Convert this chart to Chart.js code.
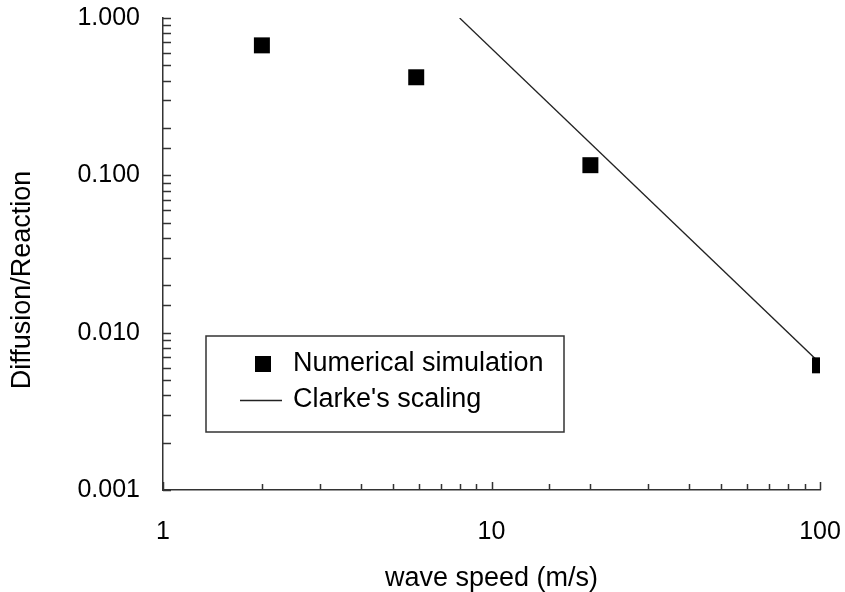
<!DOCTYPE html>
<html>
<head>
<meta charset="utf-8">
<script src="https://cdn.jsdelivr.net/npm/chart.js@4.4.0/dist/chart.umd.min.js"></script>
<style>
  html, body { margin: 0; padding: 0; background: #fff; }
  #wrap { width: 845px; height: 592px; position: relative; }
</style>
</head>
<body>
<div id="wrap"><canvas id="chart"></canvas></div>
<script>
'use strict';

// numerical simulation results
const simSpeed = [2, 5.9, 20, 100];
const simRatio = [0.67, 0.42, 0.116, 0.0062];

// Clarke's scaling: straight line in log-log, slope -2
const clarkeSpeed = [8, 100];
const clarkeRatio = [1.0, 0.0064];

const xRange = [1, 100];
const yRange = [0.001, 1];
const xTickLabels = ['1', '10', '100'];
const yTickLabels = ['0.001', '0.010', '0.100', '1.000'];

const seriesNames = ['Numerical simulation', "Clarke's scaling"];
const xTitle = 'wave speed (m/s)';
const yTitle = 'Diffusion/Reaction';

const FONT = "'Liberation Sans', Arial, sans-serif";
const INK = '#222';

function isDecade(v) {
    const l = Math.log10(v);
    return Math.abs(l - Math.round(l)) < 1e-6;
}

function decadeLabel(v, min, labels) {
    if (!isDecade(v)) return '';
    const idx = Math.round(Math.log10(v) - Math.log10(min));
    return labels[idx] !== undefined ? labels[idx] : '';
}

// keep label overhang from pushing the plot area around
function noPadding(s) {
    s.paddingTop = 0;
    s.paddingBottom = 0;
    s.paddingLeft = 0;
    s.paddingRight = 0;
}

// tick marks pointing into the plot, drawn at the scale's own tick values
const innerTicks = {
    id: 'innerTicks',
    afterDraw(chart) {
        const ctx = chart.ctx;
        const area = chart.chartArea;
        const xs = chart.scales.x;
        const ys = chart.scales.y;
        ctx.save();
        ctx.strokeStyle = '#333';
        ctx.lineWidth = 1.5;
        ctx.beginPath();
        xs.ticks.forEach(t => {
            const px = Math.round(xs.getPixelForValue(t.value)) + 0.5;
            const len = isDecade(t.value) ? 8 : 6;
            ctx.moveTo(px, area.bottom);
            ctx.lineTo(px, area.bottom - len);
        });
        ys.ticks.forEach(t => {
            const py = Math.round(ys.getPixelForValue(t.value)) + 0.5;
            ctx.moveTo(area.left, py);
            ctx.lineTo(area.left + 8, py);
        });
        ctx.stroke();
        ctx.restore();
    }
};

// boxed legend inside the plot plus the y axis title
const boxLegend = {
    id: 'boxLegend',
    afterDraw(chart) {
        const ctx = chart.ctx;
        const area = chart.chartArea;
        const ds = chart.data.datasets;
        const left = area.left + 43;
        const top = area.top + 318;
        const w = 358;
        const h = 96;

        ctx.save();
        ctx.strokeStyle = '#333';
        ctx.lineWidth = 1.5;
        ctx.strokeRect(left, top, w, h);

        ctx.font = '27px ' + FONT;
        ctx.fillStyle = '#000';
        ctx.textBaseline = 'middle';
        ctx.textAlign = 'left';

        // row 1: square marker
        const r1 = top + 28;
        ctx.fillStyle = ds[0].backgroundColor;
        ctx.fillRect(left + 49, r1 - 8, 16, 16);
        ctx.fillStyle = '#000';
        ctx.fillText(ds[0].label, left + 87, r1);

        // row 2: line sample
        const r2 = top + 64;
        ctx.strokeStyle = ds[1].borderColor;
        ctx.lineWidth = ds[1].borderWidth;
        ctx.beginPath();
        ctx.moveTo(left + 34, r2 + 0.5);
        ctx.lineTo(left + 76, r2 + 0.5);
        ctx.stroke();
        ctx.fillText(ds[1].label, left + 87, r2);

        // y axis title
        ctx.translate(23, area.top + 262);
        ctx.rotate(-Math.PI / 2);
        ctx.textAlign = 'center';
        ctx.fillText(yTitle, 0, 0);
        ctx.restore();
    }
};

const simPoints = simSpeed.map((x, i) => ({ x: x, y: simRatio[i] }));
const clarkePoints = clarkeSpeed.map((x, i) => ({ x: x, y: clarkeRatio[i] }));

const canvas = document.getElementById('chart');
new Chart(canvas, {
    type: 'scatter',
    data: {
        datasets: [{
            label: seriesNames[0],
            data: simPoints,
            pointStyle: 'rect',
            pointRadius: 11.3,
            pointHoverRadius: 11.3,
            pointBorderWidth: 0,
            backgroundColor: '#000',
            borderColor: '#000'
        },
        {
            label: seriesNames[1],
            data: clarkePoints,
            showLine: true,
            pointRadius: 0,
            borderColor: INK,
            borderWidth: 1.3,
            backgroundColor: INK
        }]
    },
    options: {
        responsive: true,
        maintainAspectRatio: false,
        animation: false,
        layout: { padding: { left: 0, top: 18, right: 25, bottom: 0 } },
        plugins: {
            legend: { display: false },
            tooltip: { enabled: false }
        },
        scales: {
            x: {
                type: 'logarithmic',
                min: xRange[0],
                max: xRange[1],
                afterFit(s) { s.height = 102; noPadding(s); },
                border: { display: true, color: '#333', width: 1.5 },
                grid: { display: false },
                ticks: {
                    autoSkip: false,
                    maxRotation: 0,
                    padding: 19,
                    color: '#000',
                    font: { family: FONT, size: 25 },
                    callback: v => decadeLabel(v, xRange[0], xTickLabels)
                },
                title: {
                    display: true,
                    text: xTitle,
                    color: '#000',
                    font: { family: FONT, size: 27, lineHeight: 1 },
                    padding: { top: 0, bottom: 0 }
                }
            },
            y: {
                type: 'logarithmic',
                min: yRange[0],
                max: yRange[1],
                afterFit(s) { s.width = 163; noPadding(s); },
                border: { display: true, color: '#333', width: 1.5 },
                grid: { display: false },
                ticks: {
                    autoSkip: false,
                    padding: 15,
                    color: '#000',
                    font: { family: FONT, size: 25 },
                    callback: v => decadeLabel(v, yRange[0], yTickLabels)
                }
            }
        }
    },
    plugins: [innerTicks, boxLegend]
});
</script>
</body>
</html>
